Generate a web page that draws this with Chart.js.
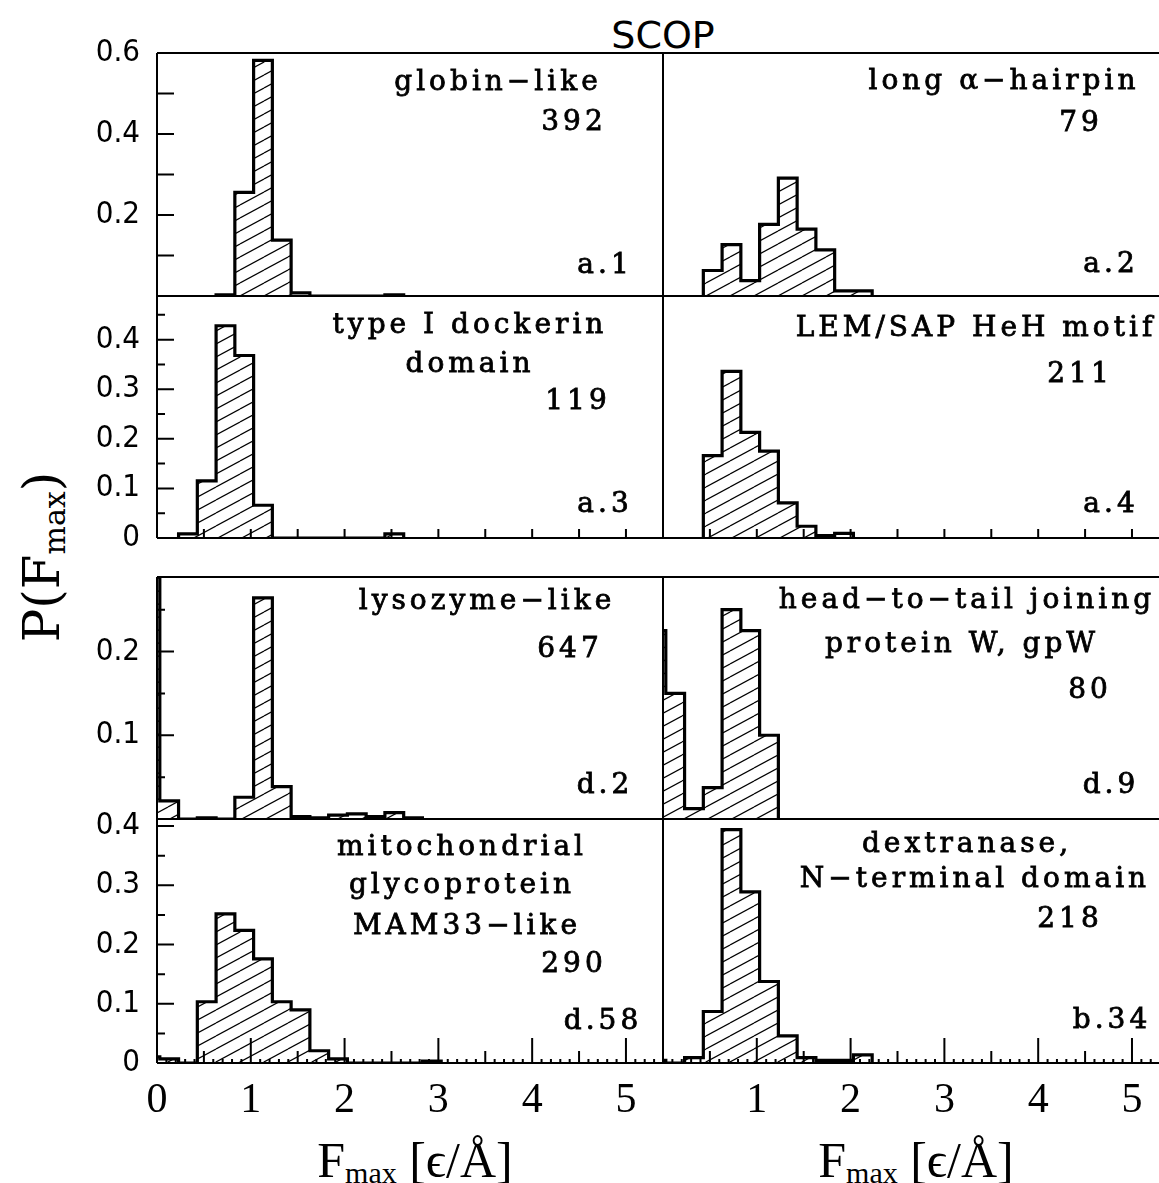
<!DOCTYPE html>
<html>
<head>
<meta charset="utf-8">
<script src="https://cdn.jsdelivr.net/npm/chart.js@4.4.1/dist/chart.umd.min.js"></script>
<style>
html, body { margin: 0; padding: 0; background: #fff; overflow: hidden; }
#fig { position: relative; width: 1159px; height: 1183px; }
#fig canvas { position: absolute; }
.lbl { position: absolute; white-space: nowrap; color: #000; line-height: 1; }
.lbl sub { font-size: 0.6em; vertical-align: -0.2em; line-height: 0; }
</style>
</head>
<body>
<div id="fig">
  <div class="lbl" style="left:663px; top:13px; font:38px 'DejaVu Sans'; transform:translateX(-50%)">SCOP</div>
  <div class="lbl" style="left:42px; top:557px; font:50px 'DejaVu Serif'; transform:translate(-50%,-50%) rotate(-90deg)">P(F<sub>max</sub>)</div>
  <div class="lbl" style="left:415px; top:1131px; font:50px 'Liberation Serif'; transform:translateX(-50%)">F<sub>max</sub> [ϵ/Å]</div>
  <div class="lbl" style="left:916px; top:1131px; font:50px 'Liberation Serif'; transform:translateX(-50%)">F<sub>max</sub> [ϵ/Å]</div>
</div>
<script>
// histogram bin edges, F_max in eps/A
const binEdges = [-0.17, 0.03, 0.23, 0.43, 0.63, 0.83, 1.03, 1.23, 1.43, 1.63, 1.83, 2.03, 2.23, 2.43, 2.63, 2.83, 3.03];

// P(F_max) per bin for each fold
const globinLike   = [0, 0, 0, 0, 0.0026, 0.256, 0.582, 0.138, 0.0077, 0, 0, 0, 0, 0.0026, 0, 0];
const longHairpin  = [0, 0, 0, 0.063, 0.127, 0.038, 0.177, 0.291, 0.165, 0.114, 0.0127, 0.0127, 0, 0, 0, 0];
const dockerin     = [0, 0, 0.0084, 0.115, 0.428, 0.368, 0.066, 0, 0, 0, 0, 0, 0, 0.0084, 0, 0];
const lemSapHeH    = [0, 0, 0, 0.166, 0.336, 0.213, 0.175, 0.071, 0.0237, 0.0047, 0.0095, 0, 0, 0, 0, 0];
const lysozymeLike = [0.62, 0.0216, 0, 0.0015, 0, 0.026, 0.264, 0.0386, 0.003, 0.0015, 0.0046, 0.0062, 0.003, 0.0077, 0.0015, 0];
const gpW          = [0.225, 0.15, 0.0125, 0.0375, 0.25, 0.225, 0.1, 0, 0, 0, 0, 0, 0, 0, 0, 0];
const mam33Like    = [0.0103, 0.0069, 0, 0.1034, 0.2517, 0.2241, 0.1759, 0.1034, 0.0897, 0.0207, 0.0069, 0, 0, 0, 0, 0.0034];
const dextranaseN  = [0.0046, 0, 0.0092, 0.087, 0.394, 0.289, 0.1376, 0.0459, 0.0092, 0.0046, 0.0046, 0.0138, 0, 0, 0, 0];

const foldNames   = [['globin−like'], ['long α−hairpin'], ['type I dockerin', 'domain'], ['LEM/SAP HeH motif'],
                     ['lysozyme−like'], ['head−to−tail joining', 'protein W, gpW'],
                     ['mitochondrial', 'glycoprotein', 'MAM33−like'], ['dextranase,', 'N−terminal domain']];
const foldCounts  = ['392', '79', '119', '211', '647', '80', '290', '218'];
const foldClasses = ['a.1', 'a.2', 'a.3', 'a.4', 'd.2', 'd.9', 'd.58', 'b.34'];

// tick labels
const xTickLabels = [['0', '1', '2', '3', '4', '5'], ['1', '2', '3', '4', '5']];
const yTickLabels = [['0.2', '0.4', '0.6'], ['0', '0.1', '0.2', '0.3', '0.4'], ['0.1', '0.2'], ['0', '0.1', '0.2', '0.3', '0.4']];

const series = [globinLike, longHairpin, dockerin, lemSapHeH, lysozymeLike, gpW, mam33Like, dextranaseN];

// layout (page pixels)
const colLeft = [157, 663], colRight = [663, 1159];
const rowTop = [53, 296, 577, 819], rowBottom = [296, 538, 819, 1063];
const xMax = [5.395, 5.288];
const yMax = [0.6, 0.488, 0.289, 0.412];

// text spots: [centre x, baseline y] from panel top-left
const textSpots = [
  {name: [[339, 37]], count: [415, 77], cls: [446, 220]},
  {name: [[339, 36]], count: [416, 78], cls: [446, 219]},
  {name: [[311, 37], [311, 76]], count: [419, 113], cls: [446, 216]},
  {name: [[311, 40]], count: [415, 86], cls: [446, 216]},
  {name: [[328, 32]], count: [411, 80], cls: [446, 216]},
  {name: [[302, 31], [297, 75]], count: [425, 121], cls: [446, 216]},
  {name: [[303, 36], [303, 74], [308, 115]], count: [415, 153], cls: [444, 210]},
  {name: [[302, 33], [310, 68]], count: [405, 108], cls: [447, 209]}
];

function histPoints(values) {
  const first = values.findIndex(v => v > 0);
  let last = values.length - 1;
  while (last > first && values[last] === 0) last--;
  const pts = [{x: binEdges[first], y: 0}];
  for (let i = first; i <= last; i++) pts.push({x: binEdges[i], y: values[i]});
  pts.push({x: binEdges[last + 1], y: 0});
  return pts;
}

function labelFor(list, v) {
  const hit = list.find(s => Math.abs(parseFloat(s) - v) < 1e-6);
  return hit === undefined ? '' : hit;
}

function hatch(ctx) {
  const tile = document.createElement('canvas');
  tile.width = 24; tile.height = 13;
  const t = tile.getContext('2d');
  t.strokeStyle = '#000';
  t.lineWidth = 1.2;
  [[0, 13, 24, 0], [0, 0, 24, -13], [0, 26, 24, 13]].forEach(l => {
    t.beginPath(); t.moveTo(l[0], l[1]); t.lineTo(l[2], l[3]); t.stroke();
  });
  return ctx.createPattern(tile, 'repeat');
}

// heavier text, like the original plotting font
function boldText(ctx, str, x, y) {
  ctx.fillText(str, x, y);
  ctx.strokeText(str, x, y);
}

const panelDecor = {
  id: 'panelDecor',
  afterDraw(chart, args, o) {
    const {ctx, chartArea: a, scales: {x, y}} = chart;
    ctx.save();
    ctx.strokeStyle = '#000';
    ctx.lineWidth = 2;
    ctx.beginPath();
    o.xTicks.forEach(t => {
      for (let k = 1; k * t.step < x.max; k++) {
        const px = x.getPixelForValue(k * t.step);
        ctx.moveTo(px, a.bottom); ctx.lineTo(px, a.bottom - t.len);
      }
    });
    o.yTicks.forEach(t => {
      for (let k = 1; k * t.step < y.max - 1e-6; k++) {
        const py = y.getPixelForValue(k * t.step);
        ctx.moveTo(a.left, py); ctx.lineTo(a.left + t.len, py);
      }
    });
    ctx.moveTo(a.left, a.top); ctx.lineTo(a.right, a.top);
    ctx.moveTo(a.left, a.bottom); ctx.lineTo(a.right, a.bottom);
    ctx.moveTo(a.left, a.top); ctx.lineTo(a.left, a.bottom);
    if (o.rightEdge) { ctx.moveTo(a.right, a.top); ctx.lineTo(a.right, a.bottom); }
    ctx.stroke();

    ctx.fillStyle = '#000';
    ctx.lineWidth = 0.8;
    ctx.font = '28px "DejaVu Serif"';
    ctx.letterSpacing = '4px';
    ctx.textAlign = 'center';
    ctx.textBaseline = 'alphabetic';
    const s = o.spots;
    o.name.forEach((line, j) => boldText(ctx, line, a.left + s.name[j][0] + 2, a.top + s.name[j][1]));
    boldText(ctx, o.count, a.left + s.count[0] + 2, a.top + s.count[1]);
    boldText(ctx, o.cls, a.left + s.cls[0] + 2, a.top + s.cls[1]);
    ctx.restore();
  }
};

const fig = document.getElementById('fig');

series.forEach((values, i) => {
  const col = i % 2, row = Math.floor(i / 2);
  const padTop = 30, padBottom = row === 3 ? 0 : 30, axisH = row === 3 ? 75 : 0;
  const left = col === 0 ? 0 : colLeft[1] - 5;
  const right = col === 0 ? colRight[0] + 5 : colRight[1];
  const top = rowTop[row] - padTop;
  const cv = document.createElement('canvas');
  cv.width = right - left;
  cv.height = rowBottom[row] - rowTop[row] + padTop + padBottom + axisH;
  cv.style.left = left + 'px';
  cv.style.top = top + 'px';
  fig.appendChild(cv);
  const ctx = cv.getContext('2d');

  let xTicks = [];
  if (row === 1) xTicks = [{step: 0.5, len: 9}];
  if (row === 3) xTicks = [{step: 0.1, len: 4}, {step: 0.5, len: 12}, {step: 1, len: 25}];
  let yTicks = [];
  if (col === 0) yTicks = row === 0 ? [{step: 0.1, len: 17}] : [{step: 0.05, len: 8}, {step: 0.1, len: 17}];

  new Chart(ctx, {
    type: 'line',
    data: {
      datasets: [{
        data: histPoints(values),
        stepped: true,
        borderColor: '#000',
        borderWidth: 3.2,
        backgroundColor: hatch(ctx),
        fill: 'origin',
        pointRadius: 0,
        clip: 0
      }]
    },
    options: {
      responsive: false,
      animation: false,
      events: [],
      layout: {padding: {left: col === 0 ? 0 : 5, right: col === 0 ? 5 : 0, top: padTop, bottom: padBottom}},
      scales: {
        x: {
          type: 'linear', min: 0, max: xMax[col],
          display: row === 3,
          grid: {display: false, drawTicks: false},
          border: {display: false},
          ticks: {
            stepSize: 1, autoSkip: false, maxRotation: 0, includeBounds: false, padding: 13,
            color: '#000', font: {family: 'Liberation Serif', size: 42},
            callback: v => labelFor(xTickLabels[col], v)
          },
          afterFit: s => { s.height = row === 3 ? axisH : 0; s.paddingLeft = 0; s.paddingRight = 0; }
        },
        y: {
          min: 0, max: yMax[row],
          display: col === 0,
          grid: {display: false, drawTicks: false},
          border: {display: false},
          ticks: {
            stepSize: 0.1, includeBounds: false, padding: 17,
            color: '#000', font: {family: '"DejaVu Sans Condensed", "DejaVu Sans"', size: 31},
            callback: v => labelFor(yTickLabels[row], v)
          },
          afterFit: s => { s.width = col === 0 ? colLeft[0] : 0; s.paddingTop = 0; s.paddingBottom = 0; }
        }
      },
      plugins: {
        legend: {display: false},
        tooltip: {enabled: false},
        panelDecor: {
          xTicks: xTicks, yTicks: yTicks, rightEdge: col === 0,
          name: foldNames[i], count: foldCounts[i], cls: foldClasses[i], spots: textSpots[i]
        }
      }
    },
    plugins: [panelDecor]
  });
});
</script>
</body>
</html>
